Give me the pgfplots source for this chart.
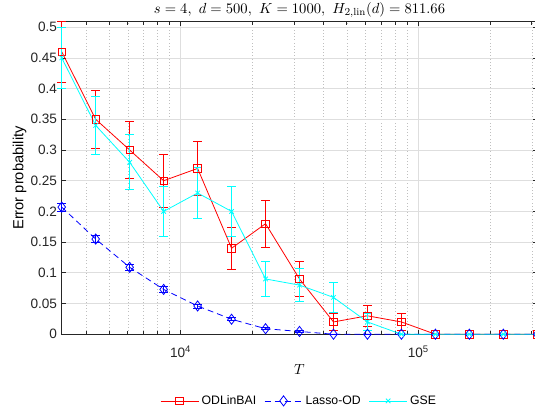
\documentclass[border=0pt]{standalone}
\usepackage{fontspec}
\usepackage{pgfplots}
\usepackage{pgfplotstable}
\pgfplotsset{compat=1.18}
\newfontfamily\helv{Liberation Sans}
\definecolor{mred}{rgb}{1,0,0}
\definecolor{mblue}{rgb}{0,0,1}
\definecolor{mcyan}{rgb}{0,1,1}

% T  p  e  (error probability and its error bar half-width)
\pgfplotstableread{
T        p      e
3162.28  0.46   0.0498
4393.97  0.35   0.0477
6105.40  0.30   0.0458
8483.43  0.25   0.0433
11787.7  0.27   0.0444
16378.9  0.14   0.0347
22758.5  0.18   0.0384
31622.8  0.09   0.0286
43939.7  0.02   0.0140
61054.0  0.03   0.0171
84834.3  0.02   0.0140
117877   0      0
163789   0      0
227585   0      0
316228   0      0
}\odlin

\pgfplotstableread{
T        p       e
3162.28  0.207   0.0064
4393.97  0.155   0.0057
6105.40  0.109   0.0049
8483.43  0.073   0.0041
11787.7  0.046   0.0033
16378.9  0.0244  0.0024
22758.5  0.009   0.0015
31622.8  0.0045  0.0011
43939.7  0       0
61054.0  0       0
84834.3  0       0
117877   0       0
163789   0       0
227585   0       0
316228   0       0
}\lasso

\pgfplotstableread{
T        p      e
3162.28  0.45   0.0497
4393.97  0.34   0.0474
6105.40  0.28   0.0449
8483.43  0.20   0.0400
11787.7  0.23   0.0421
16378.9  0.20   0.0400
22758.5  0.09   0.0286
31622.8  0.08   0.0271
43939.7  0.06   0.0237
61054.0  0.02   0.0140
84834.3  0      0
117877   0      0
163789   0      0
227585   0      0
316228   0      0
}\gse

\begin{document}
\begin{tikzpicture}
\begin{axis}[
  name=ax,
  scale only axis, width=356.7pt, height=234.45pt,
  xmode=log, xmin=3162.28, xmax=316228, ymin=0, ymax=0.509,
  clip=false,
  xtick={1e4,1e5},
  xticklabels={10\textsuperscript{4},10\textsuperscript{5}},
  minor xtick={4000,5000,6000,7000,8000,9000,20000,30000,40000,50000,60000,70000,80000,90000,200000,300000},
  ytick={0,0.05,0.1,0.15,0.2,0.25,0.3,0.35,0.4,0.45,0.5},
  yticklabels={0,0.05,0.1,0.15,0.2,0.25,0.3,0.35,0.4,0.45,0.5},
  tick label style={font=\helv\fontsize{10.2}{12}\selectfont, text=black!85},
  xticklabel style={anchor=base, yshift=-17.5pt},
  xmajorgrids, ymajorgrids, xminorgrids,
  major grid style={black!13, line width=0.5pt},
  minor grid style={black!25, dotted, line width=0.45pt},
  axis line style={black!85, line width=0.6pt},
  tick style={black!85, line width=0.6pt},
  major tick length=3.5pt, minor tick length=2.2pt,
  every axis title shift=0pt,
  title={$s=4,\ d=500,\ K=1000,\ H_{2,\mathrm{lin}}(d)=811.66$},
  title style={at={(axis description cs:0.5,1.0262)}, anchor=base, font=\fontsize{11}{13}\selectfont},
  xlabel={$T$},
  xlabel style={at={(axis description cs:0.5,-0.1301)}, anchor=base, font=\fontsize{11}{13}\selectfont},
  ylabel={Error probability},
  ylabel style={at={(axis description cs:-0.0807,0.5)}, anchor=base, font=\helv\fontsize{11}{13}\selectfont},
  legend columns=3,
  legend style={at={(axis description cs:0.5,-0.2133)}, anchor=center, draw=none, fill=none,
    font=\helv\fontsize{9.2}{11}\selectfont,
    /tikz/every even column/.append style={column sep=4pt}},
  legend image code/.code={\draw[mark repeat=2,mark phase=2] plot coordinates {(0cm,0cm)(0.5cm,0cm)(1cm,0cm)};},
]
\addplot[mred, line width=0.6pt, mark=square, mark size=2.8pt, mark options={solid},
  error bars/.cd, y dir=both, y explicit,
  error bar style={mred, solid, line width=0.6pt},
  error mark options={rotate=90, mred, solid, mark size=3.2pt, line width=0.6pt}]
  table[x=T, y=p, y error=e] {\odlin};
\addlegendentry{ODLinBAI}
\addplot[mblue, line width=0.6pt, dash pattern=on 4.5pt off 3pt, mark=diamond, mark size=3.8pt, mark options={solid},
  error bars/.cd, y dir=both, y explicit,
  error bar style={mblue, solid, line width=0.6pt},
  error mark options={rotate=90, mblue, solid, mark size=3.2pt, line width=0.6pt}]
  table[x=T, y=p, y error=e] {\lasso};
\addlegendentry{Lasso-OD}
\addplot[mcyan, line width=0.6pt, mark=x, mark size=2.4pt, mark options={solid},
  error bars/.cd, y dir=both, y explicit,
  error bar style={mcyan, solid, line width=0.6pt},
  error mark options={rotate=90, mcyan, solid, mark size=3.2pt, line width=0.6pt}]
  table[x=T, y=p, y error=e] {\gse};
\addlegendentry{GSE}
\end{axis}
\pgfresetboundingbox
\path[use as bounding box] ([shift={(-46.3pt,-58.3pt)}]ax.south west) rectangle ([shift={(355.0pt,250.7pt)}]ax.south west);
\end{tikzpicture}
\end{document}
